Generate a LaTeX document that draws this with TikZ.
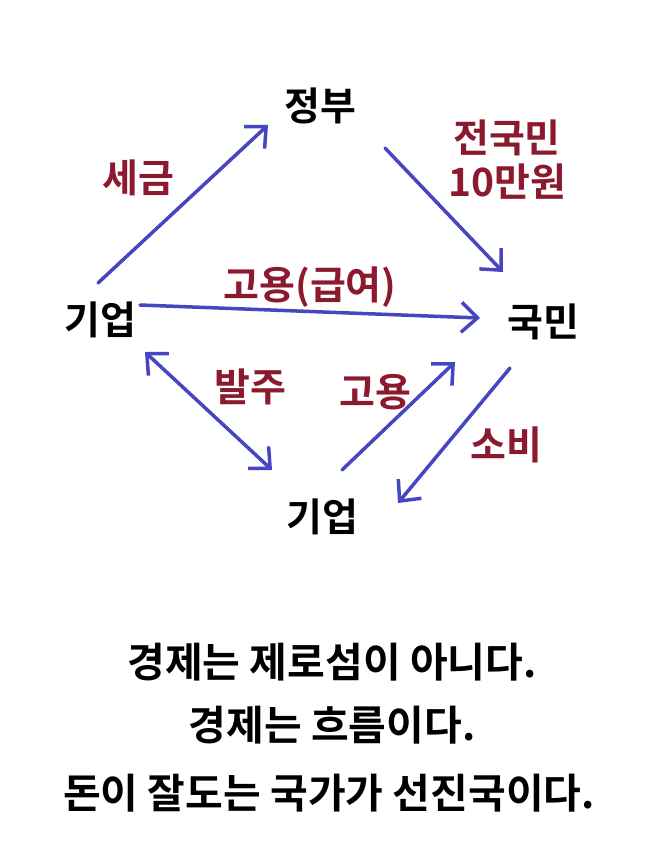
\documentclass[tikz,border=0pt]{standalone}
\usepackage{fontspec}
\setmainfont{Noto Sans CJK KR}[BoldFont={* Bold}]
\usetikzlibrary{arrows.meta}
\definecolor{lbl}{HTML}{8B1A2E}
\definecolor{arr}{HTML}{4646C2}
\tikzset{
 ent/.style={font=\fontsize{39}{44}\selectfont\bfseries},
 lab/.style={font=\fontsize{39}{44}\selectfont\bfseries,text=lbl,align=center},
 conn/.style={draw=arr,line width=3.5pt,line cap=round,-{Straight Barb[length=16pt,width=30pt,line width=3.5pt]}},
 msg/.style={font=\fontsize{41}{46}\selectfont\bfseries}
}
\begin{document}
\begin{tikzpicture}[x=1pt,y=-1pt]
\useasboundingbox[fill=white] (0,0) rectangle (658,843);
\node[ent] (gov) at (320,106) {정부};
\node[ent] (firmL) at (100,320) {기업};
\node[ent] (ppl) at (543,322) {국민};
\node[ent] (firmB) at (322,517) {기업};
\node[lab] (tax) at (138,178) {세금};
\node[lab] (cash) at (507,160) {전국민\\10만원};
\node[lab] (wage) at (310,287) {고용(급여)};
\node[lab] (order) at (250,387) {발주};
\node[lab] (hire) at (375,392) {고용};
\node[lab] (cons) at (506,445) {소비};
\coordinate (a1s) at (98,283); \coordinate (a1e) at (268,125);
\coordinate (a2s) at (385,148); \coordinate (a2e) at (503,272);
\coordinate (a3s) at (140,305); \coordinate (a3e) at (480,318);
\coordinate (a4s) at (145,352); \coordinate (a4e) at (272,470);
\coordinate (a5s) at (342,470); \coordinate (a5e) at (455,362);
\coordinate (a6s) at (510,368); \coordinate (a6e) at (398,503);
\draw[conn] (a1s) -- (a1e);
\draw[conn] (a2s) -- (a2e);
\draw[conn] (a3s) -- (a3e);
\draw[conn,{Straight Barb[length=16pt,width=30pt,line width=3.5pt]}-{Straight Barb[length=16pt,width=30pt,line width=3.5pt]}] (a4s) -- (a4e);
\draw[conn] (a5s) -- (a5e);
\draw[conn] (a6s) -- (a6e);
\node[msg] (m1) at (332,662) {경제는 제로섬이 아니다.};
\node[msg] (m2) at (332,725) {경제는 흐름이다.};
\node[msg] (m3) at (329,793) {돈이 잘도는 국가가 선진국이다.};
\end{tikzpicture}
\end{document}
